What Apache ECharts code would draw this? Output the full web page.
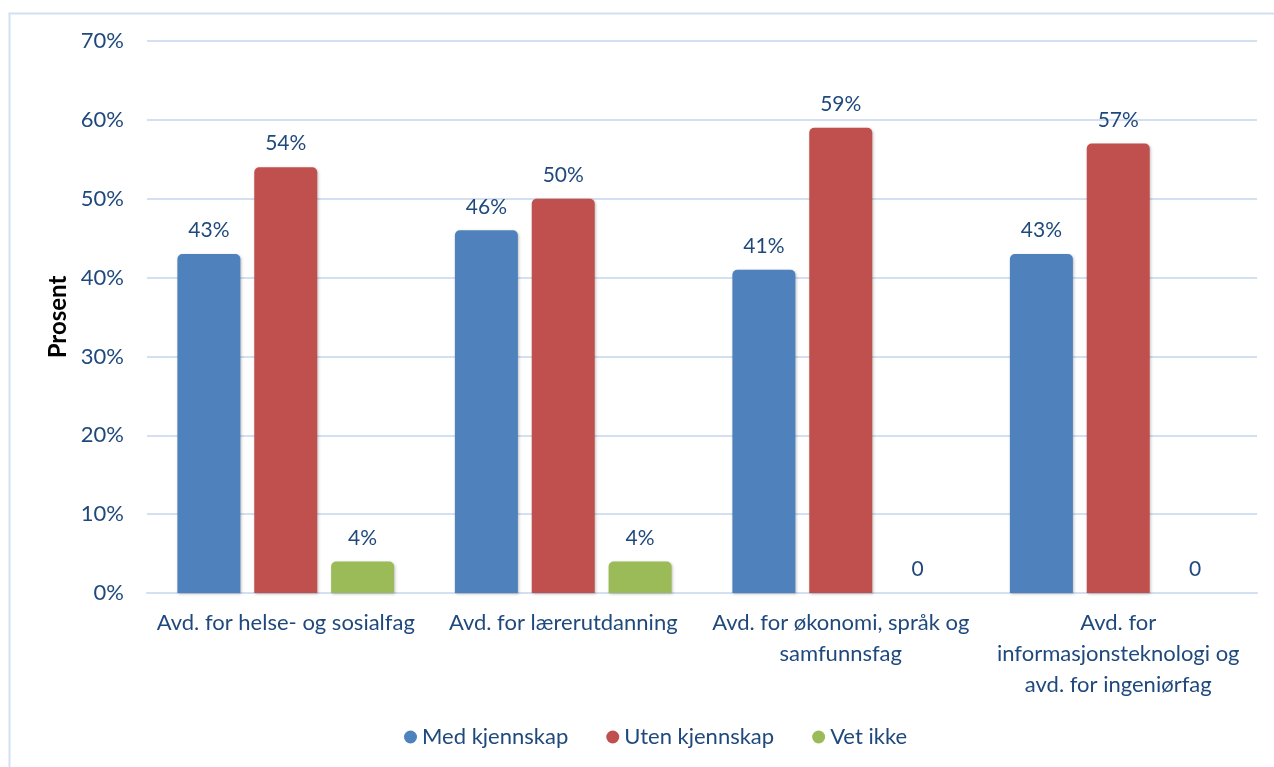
<!DOCTYPE html>
<html><head><meta charset="utf-8">
<script src="https://cdn.jsdelivr.net/npm/echarts@6/dist/echarts.min.js"></script>
<style>html,body{margin:0;padding:0;background:#fff}#c{width:1274px;height:767px}</style>
</head><body><div id="c"></div>
<script>
const categories = ['Avd. for helse- og sosialfag', 'Avd. for lærerutdanning', 'Avd. for økonomi, språk og\nsamfunnsfag', 'Avd. for\ninformasjonsteknologi og\navd. for ingeniørfag'];
const medKjennskap = [43, 46, 41, 43];
const utenKjennskap = [54, 50, 59, 57];
const vetIkke = [4, 4, 0, 0];
const seriesNames = ['Med kjennskap', 'Uten kjennskap', 'Vet ikke'];
const colors = ['#4f81bd', '#c0504d', '#9bbb59'];
const txt = '#1f497d';
const font = 'Lato, "Open Sans", sans-serif';
const chart = echarts.init(document.getElementById('c'));
const lbl = {show: true, position: 'top', distance: 13, color: txt, fontSize: 21, fontFamily: font,
  formatter: p => p.value === 0 ? '0' : p.value + '%'};
function mk(name, data, color) {
  return {name, type: 'bar', data, barWidth: 63, barGap: '22%',
    itemStyle: {color, borderRadius: [5, 5, 0, 0], shadowColor: 'rgba(0,0,0,0.25)', shadowBlur: 3, shadowOffsetX: 1, shadowOffsetY: 1},
    label: lbl};
}
chart.setOption({
  animation: false,
  graphic: [{type: 'rect', shape: {x: 9.5, y: 13.5, width: 1400, height: 900}, style: {fill: 'none', stroke: '#d3e0f1', lineWidth: 2}, z: -1}],
  grid: {left: 147, right: 17, top: 41, bottom: 174},
  legend: {bottom: 14, left: 399, itemWidth: 13, itemHeight: 13, itemGap: 38, icon: 'circle',
    textStyle: {color: txt, fontSize: 22, fontFamily: font}, data: seriesNames},
  xAxis: {type: 'category', data: categories,
    axisLine: {lineStyle: {color: '#d3e0f1', width: 2}}, axisTick: {show: false},
    axisLabel: {color: txt, fontSize: 22, fontFamily: font, margin: 14, lineHeight: 31, interval: 0}},
  yAxis: {type: 'value', min: 0, max: 70, interval: 10,
    name: 'Prosent', nameLocation: 'middle', nameGap: 76, nameRotate: 90,
    nameTextStyle: {color: '#000', fontSize: 24, fontWeight: 'bold', fontFamily: font},
    axisLine: {show: false}, axisTick: {show: false},
    splitLine: {lineStyle: {color: '#d3e0f1', width: 2}},
    axisLabel: {color: txt, fontSize: 22, fontFamily: font, margin: 23, formatter: '{value}%'}},
  series: [mk(seriesNames[0], medKjennskap, colors[0]), mk(seriesNames[1], utenKjennskap, colors[1]), mk(seriesNames[2], vetIkke, colors[2])]
});
</script></body></html>
